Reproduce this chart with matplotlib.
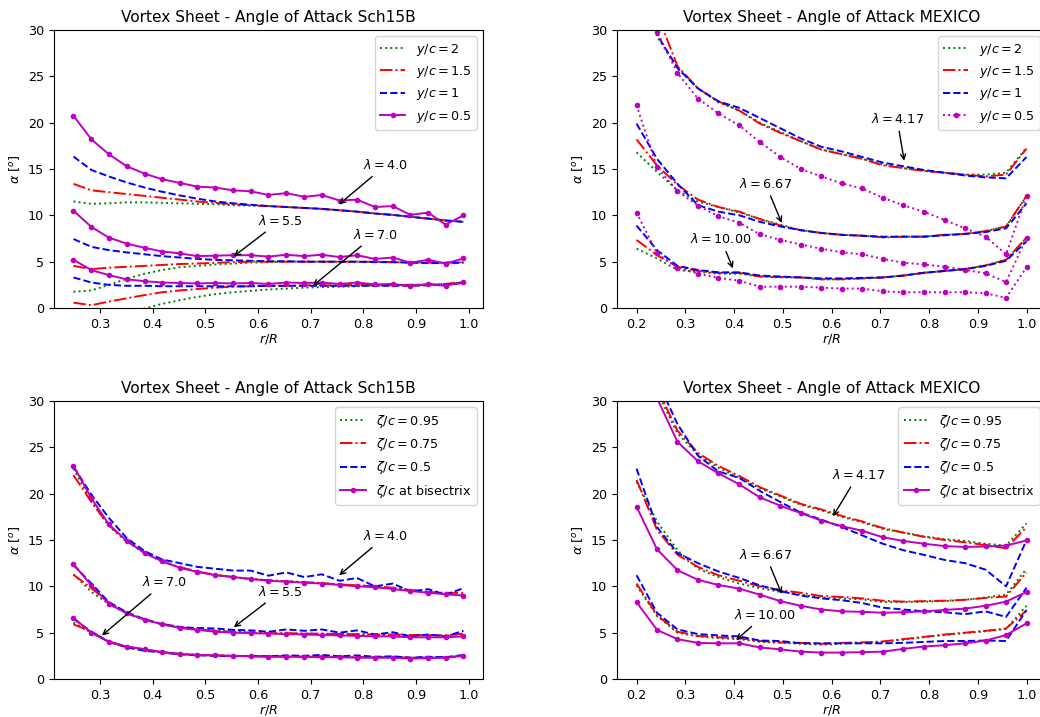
import matplotlib
matplotlib.use('Agg')
import matplotlib.pyplot as plt

plt.rcParams['font.size'] = 9.2
plt.rcParams['lines.linewidth'] = 1.4

# radial stations
r_sch = [0.25, 0.284, 0.317, 0.351, 0.385, 0.418, 0.452, 0.485, 0.519, 0.553, 0.586, 0.62,
         0.654, 0.688, 0.721, 0.755, 0.788, 0.822, 0.856, 0.889, 0.923, 0.956, 0.99]
r_mex = [0.2, 0.242, 0.284, 0.326, 0.368, 0.411, 0.453, 0.495, 0.537, 0.579, 0.621, 0.663,
         0.705, 0.747, 0.789, 0.832, 0.874, 0.916, 0.958, 1.0]

# ---- Sch15B, y/c ----
sch_y_40_2 = [11.5, 11.25, 11.3, 11.4, 11.4, 11.35, 11.3, 11.25, 11.2, 11.1, 11.05, 11.0, 10.9, 10.8, 10.7,
              10.55, 10.4, 10.2, 10.05, 9.85, 9.65, 9.45, 9.3]
sch_y_40_15 = [13.4, 12.7, 12.5, 12.3, 12.1, 11.9, 11.7, 11.5, 11.35, 11.2, 11.1, 11.0, 10.9, 10.8, 10.7,
               10.55, 10.4, 10.2, 10.05, 9.85, 9.65, 9.45, 9.3]
sch_y_40_1 = [16.35, 14.9, 14.2, 13.55, 13.0, 12.55, 12.15, 11.8, 11.5, 11.3, 11.15, 11.0, 10.9, 10.8, 10.7,
              10.55, 10.4, 10.2, 10.05, 9.85, 9.65, 9.45, 9.3]
sch_y_40_05 = [20.75, 18.2, 16.6, 15.3, 14.5, 13.9, 13.5, 13.1, 13.0, 12.7, 12.6, 12.2, 12.4, 12.0, 12.2,
               11.6, 11.7, 10.9, 11.0, 10.05, 10.3, 9.0, 10.0]

sch_y_55_2 = [1.75, 1.9, 2.5, 3.15, 3.7, 4.1, 4.4, 4.55, 4.7, 4.8, 4.9, 4.95, 5.0, 5.0, 5.0,
              5.0, 5.0, 4.98, 4.95, 4.92, 4.9, 4.9, 4.9]
sch_y_55_15 = [4.55, 4.2, 4.35, 4.45, 4.55, 4.65, 4.75, 4.8, 4.88, 4.95, 5.0, 5.0, 5.0, 5.0, 5.0,
               5.0, 5.0, 4.98, 4.95, 4.92, 4.9, 4.9, 4.95]
sch_y_55_1 = [7.45, 6.6, 6.25, 6.0, 5.8, 5.6, 5.45, 5.3, 5.2, 5.15, 5.1, 5.05, 5.05, 5.0, 5.0,
              5.0, 5.0, 4.95, 4.95, 4.9, 4.85, 4.85, 4.9]
sch_y_55_05 = [10.5, 8.75, 7.6, 6.95, 6.5, 6.1, 5.9, 5.6, 5.65, 5.7, 5.7, 5.55, 5.75, 5.6, 5.75,
               5.5, 5.7, 5.3, 5.45, 4.9, 5.2, 4.8, 5.35]

sch_y_70_2 = [-2.0, -1.5, -1.0, -0.5, -0.05, 0.45, 0.85, 1.2, 1.5, 1.7, 1.85, 2.0, 2.1, 2.2, 2.25,
              2.3, 2.35, 2.4, 2.45, 2.5, 2.55, 2.6, 2.75]
sch_y_70_15 = [0.58, 0.3, 0.7, 1.05, 1.4, 1.7, 1.9, 2.05, 2.2, 2.3, 2.35, 2.4, 2.4, 2.45, 2.45,
               2.45, 2.5, 2.5, 2.5, 2.5, 2.55, 2.6, 2.8]
sch_y_70_1 = [3.3, 2.75, 2.5, 2.4, 2.4, 2.35, 2.35, 2.35, 2.35, 2.35, 2.35, 2.4, 2.4, 2.4, 2.4,
              2.4, 2.4, 2.4, 2.4, 2.4, 2.45, 2.5, 2.7]
sch_y_70_05 = [5.2, 4.1, 3.55, 3.1, 2.9, 2.75, 2.7, 2.65, 2.7, 2.65, 2.7, 2.6, 2.75, 2.7, 2.75,
               2.6, 2.75, 2.55, 2.6, 2.35, 2.55, 2.4, 2.8]

# ---- MEXICO, y/c ----
mex_y_417_2 = [38, 29.3, 25.9, 23.7, 22.2, 21.3, 20.0, 19.0, 18.0, 17.1, 16.6, 16.1, 15.5, 15.1,
               14.8, 14.6, 14.4, 14.4, 14.6, 17.3]
mex_y_417_15 = [40, 31.8, 26.1, 23.7, 22.3, 21.3, 19.9, 18.9, 18.0, 17.1, 16.6, 16.1, 15.4, 15.1,
                14.8, 14.6, 14.4, 14.2, 14.4, 17.2]
mex_y_417_1 = [38, 29.5, 25.9, 23.7, 22.3, 21.6, 20.5, 19.4, 18.3, 17.4, 16.9, 16.3, 15.7, 15.3,
               14.9, 14.6, 14.3, 14.1, 14.0, 16.3]
mex_y_417_05 = [40, 29.8, 25.35, 22.6, 21.0, 19.7, 17.9, 16.3, 15.0, 14.2, 13.45, 12.9, 11.9, 11.1,
                10.4, 9.5, 8.6, 7.7, 5.8, 12.1]

mex_y_667_2 = [16.8, 14.7, 12.7, 11.5, 10.9, 10.3, 9.6, 9.0, 8.4, 8.1, 7.9, 7.8, 7.6, 7.7,
               7.7, 7.9, 8.0, 8.3, 8.8, 12.1]
mex_y_667_15 = [18.2, 15.4, 13.3, 11.7, 10.9, 10.4, 9.6, 8.9, 8.4, 8.1, 7.9, 7.8, 7.65, 7.7,
                7.7, 7.9, 8.0, 8.3, 8.8, 12.1]
mex_y_667_1 = [19.9, 16.1, 13.4, 11.1, 10.4, 10.0, 9.3, 8.8, 8.4, 8.1, 7.9, 7.8, 7.7, 7.7,
               7.7, 7.85, 8.0, 8.2, 8.6, 11.3]
mex_y_667_05 = [21.9, 15.2, 12.6, 11.05, 9.9, 9.2, 7.95, 7.35, 6.85, 6.4, 6.0, 5.8, 5.3, 4.9,
                4.7, 4.45, 4.1, 3.75, 2.8, 7.6]

mex_y_10_2 = [6.4, 5.35, 4.1, 3.9, 3.7, 3.7, 3.4, 3.3, 3.3, 3.1, 3.1, 3.2, 3.3, 3.5,
              3.8, 4.0, 4.2, 4.6, 5.2, 7.6]
mex_y_10_15 = [7.35, 5.7, 4.45, 4.0, 3.8, 3.8, 3.4, 3.35, 3.3, 3.1, 3.1, 3.2, 3.3, 3.5,
               3.8, 4.0, 4.2, 4.6, 5.2, 7.6]
mex_y_10_1 = [8.9, 6.25, 4.55, 4.1, 3.85, 3.85, 3.5, 3.4, 3.3, 3.2, 3.2, 3.25, 3.3, 3.5,
              3.8, 4.0, 4.2, 4.55, 5.1, 7.2]
mex_y_10_05 = [10.3, 5.9, 4.35, 3.7, 3.25, 2.95, 2.3, 2.3, 2.3, 2.2, 2.1, 2.1, 1.8, 1.7,
               1.7, 1.7, 1.7, 1.6, 1.1, 4.4]

# ---- Sch15B, zeta/c ----
sch_z_40_095 = [22.7, 19.2, 16.5, 14.8, 13.6, 12.7, 12.05, 11.6, 11.25, 11.0, 10.8, 10.65, 10.55, 10.45,
                10.35, 10.2, 10.1, 10.0, 9.8, 9.6, 9.4, 9.2, 9.1]
sch_z_40_075 = [22.0, 19.1, 16.6, 14.9, 13.6, 12.7, 12.05, 11.6, 11.25, 11.0, 10.8, 10.65, 10.55, 10.45,
                10.35, 10.2, 10.1, 10.0, 9.85, 9.6, 9.4, 9.3, 9.3]
sch_z_40_05 = [22.9, 19.9, 17.4, 15.2, 13.8, 12.9, 12.5, 12.1, 11.9, 11.7, 11.7, 11.15, 11.5, 11.0,
               11.3, 10.6, 10.9, 10.0, 10.3, 9.45, 9.7, 9.1, 9.8]
sch_z_40_bis = [23.0, 19.5, 16.7, 14.9, 13.6, 12.7, 12.0, 11.55, 11.2, 11.0, 10.8, 10.6, 10.5, 10.4,
                10.3, 10.15, 10.0, 9.9, 9.7, 9.5, 9.3, 9.15, 9.0]

sch_z_55_095 = [11.3, 9.4, 8.1, 7.1, 6.4, 5.95, 5.6, 5.35, 5.2, 5.1, 5.0, 4.95, 4.9, 4.9,
                4.85, 4.85, 4.8, 4.75, 4.75, 4.7, 4.7, 4.7, 4.85]
sch_z_55_075 = [11.25, 9.8, 8.25, 7.1, 6.4, 5.95, 5.6, 5.35, 5.2, 5.1, 5.0, 4.95, 4.95, 4.9,
                4.9, 4.85, 4.85, 4.8, 4.8, 4.75, 4.75, 4.7, 4.9]
sch_z_55_05 = [12.3, 10.3, 8.3, 7.2, 6.45, 5.9, 5.6, 5.5, 5.45, 5.3, 5.25, 5.1, 5.35, 5.2,
               5.35, 5.0, 5.25, 4.8, 5.05, 4.6, 4.8, 4.6, 5.2]
sch_z_55_bis = [12.4, 10.1, 8.1, 7.1, 6.4, 5.9, 5.5, 5.3, 5.1, 5.0, 4.95, 4.9, 4.85, 4.8,
                4.75, 4.7, 4.65, 4.6, 4.6, 4.5, 4.5, 4.5, 4.6]

sch_z_70_095 = [6.1, 5.0, 4.0, 3.5, 3.2, 2.9, 2.7, 2.6, 2.55, 2.5, 2.45, 2.45, 2.4, 2.4,
                2.4, 2.35, 2.35, 2.35, 2.3, 2.3, 2.3, 2.3, 2.5]
sch_z_70_075 = [5.9, 5.1, 4.05, 3.5, 3.2, 2.9, 2.7, 2.6, 2.55, 2.5, 2.45, 2.45, 2.45, 2.4,
                2.4, 2.4, 2.35, 2.35, 2.35, 2.3, 2.3, 2.35, 2.5]
sch_z_70_05 = [6.5, 5.1, 4.0, 3.4, 3.05, 2.85, 2.65, 2.55, 2.5, 2.45, 2.5, 2.45, 2.55, 2.5,
               2.6, 2.45, 2.55, 2.4, 2.45, 2.3, 2.4, 2.35, 2.6]
sch_z_70_bis = [6.6, 5.0, 4.0, 3.5, 3.2, 2.9, 2.7, 2.6, 2.55, 2.5, 2.45, 2.4, 2.4, 2.4,
                2.35, 2.35, 2.3, 2.3, 2.3, 2.2, 2.25, 2.3, 2.5]

# ---- MEXICO, zeta/c ----
mex_z_417_095 = [40, 31.0, 26.5, 24.2, 22.8, 21.7, 20.6, 19.7, 18.8, 18.2, 17.5, 16.9, 16.2, 15.8,
                 15.4, 15.1, 14.9, 14.6, 14.4, 16.8]
mex_z_417_075 = [40, 31.4, 26.8, 24.4, 23.0, 21.9, 20.7, 19.8, 18.9, 18.3, 17.6, 17.0, 16.3, 15.8,
                 15.35, 15.0, 14.75, 14.45, 14.1, 16.4]
mex_z_417_05 = [42, 32.3, 27.5, 24.1, 22.4, 21.7, 20.3, 19.1, 17.95, 17.2, 16.4, 15.5, 14.6, 13.9,
                13.4, 12.85, 12.5, 11.8, 10.0, 15.0]
mex_z_417_bis = [40, 30.3, 25.6, 23.5, 22.2, 21.0, 19.6, 18.7, 17.9, 17.1, 16.5, 16.0, 15.3, 14.9,
                 14.6, 14.35, 14.25, 14.3, 14.4, 14.95]

mex_z_667_095 = [21.3, 17.0, 13.9, 11.9, 11.0, 10.3, 9.8, 9.4, 9.1, 8.8, 8.7, 8.6, 8.3, 8.3,
                 8.35, 8.4, 8.55, 8.8, 9.1, 11.9]
mex_z_667_075 = [21.5, 16.1, 13.4, 12.1, 11.2, 10.6, 10.0, 9.6, 9.3, 8.95, 8.85, 8.7, 8.45, 8.35,
                 8.4, 8.45, 8.55, 8.75, 8.9, 11.5]
mex_z_667_05 = [22.7, 16.4, 13.6, 12.5, 11.6, 10.9, 10.1, 9.5, 9.0, 8.7, 8.5, 8.2, 7.7, 7.5,
                7.3, 7.2, 7.0, 7.3, 6.7, 9.85]
mex_z_667_bis = [18.6, 14.0, 11.75, 10.7, 10.15, 9.75, 9.1, 8.4, 7.9, 7.5, 7.3, 7.25, 7.15, 7.2,
                 7.3, 7.45, 7.6, 7.9, 8.35, 9.4]

mex_z_10_095 = [10.1, 6.8, 5.0, 4.6, 4.4, 4.3, 4.0, 3.9, 3.8, 3.7, 3.8, 3.9, 4.0, 4.25,
                4.5, 4.75, 4.95, 5.15, 5.4, 7.9]
mex_z_10_075 = [10.3, 6.9, 5.1, 4.65, 4.5, 4.4, 4.1, 3.95, 3.9, 3.8, 3.9, 3.95, 4.05, 4.3,
                4.55, 4.8, 5.0, 5.2, 5.45, 7.4]
mex_z_10_05 = [11.2, 7.15, 5.35, 4.85, 4.7, 4.6, 4.15, 4.1, 3.85, 3.85, 3.85, 3.85, 3.85, 3.9,
               4.0, 4.1, 4.1, 4.15, 4.1, 7.45]
mex_z_10_bis = [8.3, 5.3, 4.3, 3.9, 3.85, 3.85, 3.4, 3.2, 2.95, 2.85, 2.85, 2.9, 2.95, 3.25,
                3.5, 3.65, 3.85, 4.15, 4.75, 6.0]

y_labels = [r'$y/c = 2$', r'$y/c = 1.5$', r'$y/c = 1$', r'$y/c = 0.5$']
z_labels = [r'$\zeta/c = 0.95$', r'$\zeta/c = 0.75$', r'$\zeta/c = 0.5$', r'$\zeta/c$ at bisectrix']


def plot_group(ax, r, g, rr, b, m, labels=None, m_style='-'):
    lab = labels if labels else [None] * 4
    ax.plot(r, g, 'g:', label=lab[0])
    ax.plot(r, rr, 'r-.', label=lab[1])
    ax.plot(r, b, 'b--', label=lab[2])
    ax.plot(r, m, color='m', linestyle=m_style, marker='.', label=lab[3])


def finish(ax, title):
    ax.set_ylim(0, 30)
    ax.set_title(title)
    ax.set_xlabel(r'$r/R$', labelpad=1)
    ax.set_ylabel(r'$\alpha$ [$^o$]')
    ax.legend(loc='upper right')


arrow = dict(arrowstyle='->')

fig = plt.figure(figsize=(10.4, 7.17), dpi=100)
ax1 = fig.add_axes([0.0519, 0.5704, 0.4125, 0.3877])
ax2 = fig.add_axes([0.5933, 0.5704, 0.4125, 0.3877])
ax3 = fig.add_axes([0.0519, 0.0530, 0.4125, 0.3877])
ax4 = fig.add_axes([0.5933, 0.0530, 0.4125, 0.3877])

# top left
plot_group(ax1, r_sch, sch_y_40_2, sch_y_40_15, sch_y_40_1, sch_y_40_05, y_labels)
plot_group(ax1, r_sch, sch_y_55_2, sch_y_55_15, sch_y_55_1, sch_y_55_05)
plot_group(ax1, r_sch, sch_y_70_2, sch_y_70_15, sch_y_70_1, sch_y_70_05)
ax1.annotate(r'$\lambda = 4.0$', xy=(0.75, 11.0), xytext=(0.8, 15), arrowprops=arrow)
ax1.annotate(r'$\lambda = 5.5$', xy=(0.55, 5.4), xytext=(0.6, 9), arrowprops=arrow)
ax1.annotate(r'$\lambda = 7.0$', xy=(0.7, 2.2), xytext=(0.78, 7.5), arrowprops=arrow)
finish(ax1, 'Vortex Sheet - Angle of Attack Sch15B')

# top right
plot_group(ax2, r_mex, mex_y_417_2, mex_y_417_15, mex_y_417_1, mex_y_417_05, y_labels, ':')
plot_group(ax2, r_mex, mex_y_667_2, mex_y_667_15, mex_y_667_1, mex_y_667_05, None, ':')
plot_group(ax2, r_mex, mex_y_10_2, mex_y_10_15, mex_y_10_1, mex_y_10_05, None, ':')
ax2.annotate(r'$\lambda = 4.17$', xy=(0.75, 15.6), xytext=(0.68, 20), arrowprops=arrow)
ax2.annotate(r'$\lambda = 6.67$', xy=(0.5, 8.9), xytext=(0.41, 13), arrowprops=arrow)
ax2.annotate(r'$\lambda = 10.00$', xy=(0.4, 4.0), xytext=(0.31, 7), arrowprops=arrow)
finish(ax2, 'Vortex Sheet - Angle of Attack MEXICO')

# bottom left
plot_group(ax3, r_sch, sch_z_40_095, sch_z_40_075, sch_z_40_05, sch_z_40_bis, z_labels)
plot_group(ax3, r_sch, sch_z_55_095, sch_z_55_075, sch_z_55_05, sch_z_55_bis)
plot_group(ax3, r_sch, sch_z_70_095, sch_z_70_075, sch_z_70_05, sch_z_70_bis)
ax3.annotate(r'$\lambda = 4.0$', xy=(0.75, 11.0), xytext=(0.8, 15), arrowprops=arrow)
ax3.annotate(r'$\lambda = 5.5$', xy=(0.55, 5.4), xytext=(0.6, 9), arrowprops=arrow)
ax3.annotate(r'$\lambda = 7.0$', xy=(0.3, 4.5), xytext=(0.38, 10), arrowprops=arrow)
finish(ax3, 'Vortex Sheet - Angle of Attack Sch15B')

# bottom right
plot_group(ax4, r_mex, mex_z_417_095, mex_z_417_075, mex_z_417_05, mex_z_417_bis, z_labels)
plot_group(ax4, r_mex, mex_z_667_095, mex_z_667_075, mex_z_667_05, mex_z_667_bis)
plot_group(ax4, r_mex, mex_z_10_095, mex_z_10_075, mex_z_10_05, mex_z_10_bis)
ax4.annotate(r'$\lambda = 4.17$', xy=(0.6, 17.3), xytext=(0.6, 21.6), arrowprops=arrow)
ax4.annotate(r'$\lambda = 6.67$', xy=(0.5, 8.9), xytext=(0.41, 13), arrowprops=arrow)
ax4.annotate(r'$\lambda = 10.00$', xy=(0.4, 4.0), xytext=(0.4, 6.5), arrowprops=arrow)
finish(ax4, 'Vortex Sheet - Angle of Attack MEXICO')

fig.savefig('out.png', dpi=100)
